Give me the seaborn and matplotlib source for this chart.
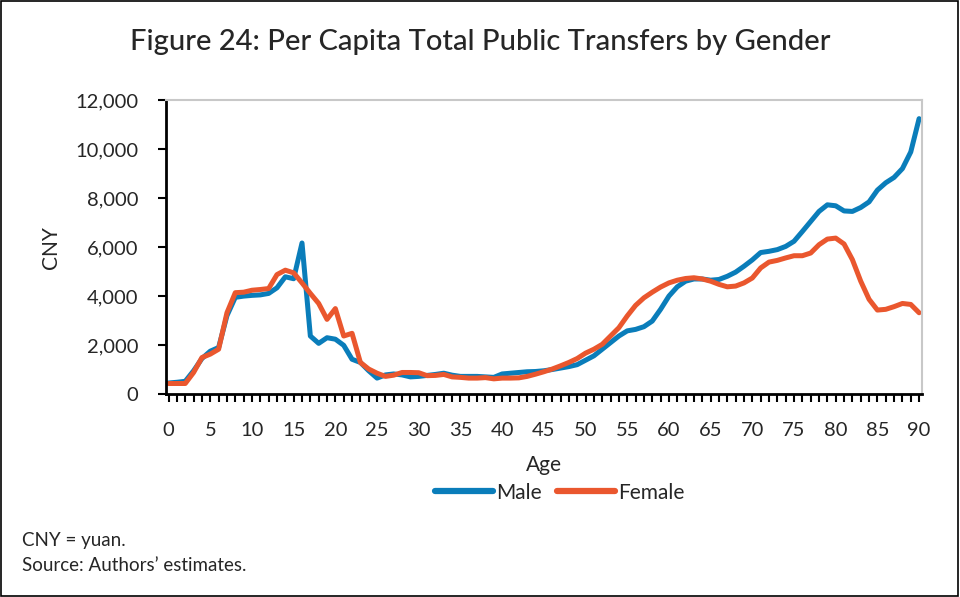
#!/usr/bin/env python3
"""
Figure 24: Per capita total public transfers by gender
"""

import numpy as np
import pandas as pd
import matplotlib
matplotlib.use('Agg')
import matplotlib.pyplot as plt
from matplotlib.ticker import MultipleLocator, FuncFormatter
from matplotlib.patches import Rectangle
import seaborn as sns

# ages 0..90
ages = list(range(0, 91))

male = [
    450, 480, 520, 950, 1450, 1750, 1900, 3200, 3950, 4000,
    4030, 4050, 4110, 4340, 4790, 4710, 6170, 2370, 2070, 2300,
    2240, 1990, 1420, 1290, 950, 650, 780, 820, 780, 700,
    720, 760, 800, 850, 770, 720, 720, 720, 700, 680,
    820, 850, 880, 910, 920, 950, 1000, 1060, 1120, 1200,
    1380, 1560, 1830, 2100, 2370, 2580, 2640, 2750, 2980, 3460,
    4000, 4380, 4610, 4700, 4700, 4650, 4680, 4810, 4980, 5220,
    5480, 5780, 5830, 5900, 6030, 6240, 6640, 7050, 7460, 7730,
    7690, 7480, 7460, 7620, 7850, 8330, 8630, 8850, 9210, 9890,
    11250,
]

female = [
    430, 430, 430, 880, 1490, 1630, 1830, 3320, 4140, 4160,
    4240, 4270, 4310, 4880, 5060, 4950, 4540, 4110, 3700, 3050,
    3490, 2370, 2480, 1290, 1020, 850, 720, 770, 880, 880,
    870, 750, 760, 800, 700, 680, 650, 650, 670, 620,
    650, 650, 660, 720, 810, 910, 1020, 1150, 1290, 1450,
    1670, 1830, 2030, 2370, 2710, 3190, 3620, 3930, 4160, 4370,
    4540, 4650, 4720, 4750, 4700, 4610, 4480, 4380, 4410, 4540,
    4740, 5150, 5390, 5460, 5560, 5650, 5650, 5760, 6100, 6330,
    6370, 6130, 5490, 4610, 3870, 3430, 3460, 3570, 3700, 3660,
    3320,
]

y_ticks = [0, 2000, 4000, 6000, 8000, 10000, 12000]
x_tick_labels = list(range(0, 91, 5))

colors = {'Male': '#0a7dba', 'Female': '#ea572e'}

sns.set_theme(style='white')
plt.rcParams['font.family'] = ['Lato', 'DejaVu Sans']

df = pd.DataFrame({
    'Age': ages * 2,
    'CNY': male + female,
    'Gender': ['Male'] * len(ages) + ['Female'] * len(ages),
})

fig = plt.figure(figsize=(9.6, 5.97), dpi=100)
ax = fig.add_axes([0.173, 0.340, 0.787, 0.492])

sns.lineplot(data=df, x='Age', y='CNY', hue='Gender', palette=colors,
             linewidth=3.6, ax=ax, legend=False)
for line in ax.get_lines():
    line.set_solid_capstyle('round')
    line.set_solid_joinstyle('round')

ax.set_xlim(-0.3, 90.3)
ax.set_ylim(0, 12000)
ax.set_yticks(y_ticks)
ax.yaxis.set_major_formatter(FuncFormatter(lambda v, p: f'{int(v):,}'))
ax.set_xticks(x_tick_labels)
ax.xaxis.set_minor_locator(MultipleLocator(1))

ax.tick_params(axis='y', which='major', direction='out', length=6, width=1.5,
               color='black', labelsize=14.5, pad=14, left=True)
ax.tick_params(axis='x', which='major', direction='out', length=6, width=1.5,
               color='black', labelsize=14.5, pad=14, bottom=True)
ax.tick_params(axis='x', which='minor', direction='out', length=6, width=1.5,
               color='black', bottom=True)

for side in ['left', 'bottom']:
    ax.spines[side].set_color('black')
    ax.spines[side].set_linewidth(2)
for side in ['top', 'right']:
    ax.spines[side].set_color('#c8c8c8')
    ax.spines[side].set_linewidth(1.5)

ax.set_xlabel('Age', fontsize=15, labelpad=12)
ax.set_ylabel('CNY', fontsize=15, labelpad=10)

# legend below the axis label
handles = [plt.Line2D([0], [0], color=colors[g], linewidth=4.5,
                      solid_capstyle='round') for g in ['Male', 'Female']]
fig.legend(handles, ['Male', 'Female'], loc='center', ncol=2,
           bbox_to_anchor=(0.583, 0.175), frameon=False, fontsize=15,
           handlelength=2.8, handletextpad=0.15, columnspacing=0.7)

fig.suptitle('Figure 24: Per Capita Total Public Transfers by Gender',
             x=0.5, y=0.93, va='center', fontsize=21, fontweight='medium')

fig.text(0.023, 0.094, 'CNY = yuan.', fontsize=13.5, va='center')
fig.text(0.023, 0.052, 'Source: Authors\u2019 estimates.', fontsize=13.5,
         va='center')

# outer frame
fig.patches.append(Rectangle((0.001, 0.002), 0.997, 0.996,
                             transform=fig.transFigure, fill=False,
                             edgecolor='black', linewidth=1.2))

fig.savefig('out.png', dpi=100)
